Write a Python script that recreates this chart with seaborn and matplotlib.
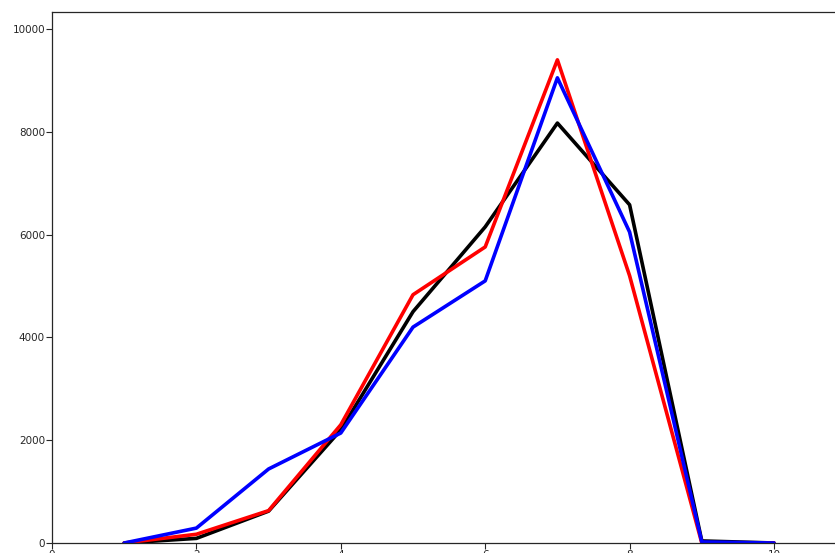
import matplotlib
matplotlib.use("Agg")
import matplotlib.pyplot as plt
import seaborn as sns
import pandas as pd

x = [1, 2, 3, 4, 5, 6, 7, 8, 9, 10]
black = [0, 90, 620, 2200, 4500, 6150, 8170, 6580, 40, 0]
red = [0, 170, 630, 2300, 4830, 5760, 9400, 5200, 0, 0]
blue = [0, 290, 1440, 2140, 4200, 5100, 9050, 6050, 20, 0]
series_names = ["black", "red", "blue"]
colors = ["#000000", "#ff0000", "#0000ff"]
xticks = [0, 2, 4, 6, 8, 10]
yticks = [0, 2000, 4000, 6000, 8000, 10000]

df = pd.DataFrame({
    "x": x * 3,
    "y": black + red + blue,
    "s": sum([[n] * len(x) for n in series_names], []),
})

sns.set_style("ticks")
plt.rcParams["font.family"] = ["DejaVu Sans"]

W, H = 835, 553
fig = plt.figure(figsize=(W / 100, H / 100), dpi=100)
left, right, top, bottom = 52, 870, 12, 543
ax = fig.add_axes([left / W, 1 - bottom / H, (right - left) / W, (bottom - top) / H])

sns.lineplot(data=df, x="x", y="y", hue="s", palette=dict(zip(series_names, colors)),
             linewidth=2.6, ax=ax, legend=False, antialiased=True)

ax.set_xlim(0, (right - left) / 72.2)
ax.set_ylim(0, (bottom - top) / 51.4 * 1000)
ax.set_xticks(xticks)
ax.set_yticks(yticks)
ax.tick_params(labelsize=7.5, length=4, width=0.8, pad=1)
ax.set_xlabel("")
ax.set_ylabel("")
for sp in ax.spines.values():
    sp.set_linewidth(0.9)

fig.savefig("out.png", dpi=100)
